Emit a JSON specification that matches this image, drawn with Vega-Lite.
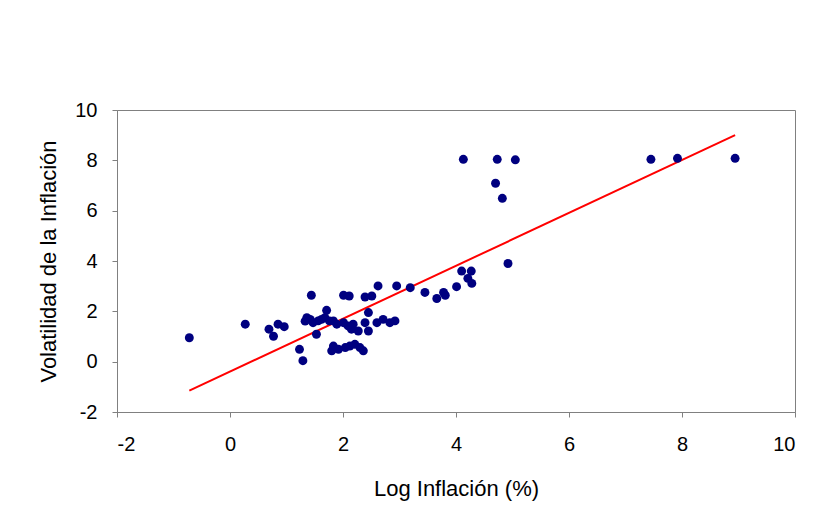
{
  "$schema": "https://vega.github.io/schema/vega-lite/v6.json",
  "width": 678,
  "height": 302,
  "autosize": {"type": "none"},
  "padding": {"left": 117, "top": 110, "right": 23, "bottom": 112},
  "background": "white",
  "config": {
    "view": {"stroke": "#808080", "strokeWidth": 1},
    "font": "Liberation Sans",
    "axis": {
      "grid": false,
      "domainColor": "#808080",
      "tickColor": "#808080",
      "tickSize": 5,
      "labelFont": "Liberation Sans",
      "labelFontSize": 20,
      "labelColor": "black",
      "titleFont": "Liberation Sans",
      "titleFontSize": 22,
      "titleFontWeight": "normal",
      "titleColor": "black"
    }
  },
  "datasets": {
    "pts": [
      {"x": -0.72, "y": 0.95}, {"x": 0.27, "y": 1.49}, {"x": 0.69, "y": 1.29}, {"x": 0.77, "y": 1.01},
      {"x": 0.85, "y": 1.49}, {"x": 0.96, "y": 1.39}, {"x": 1.23, "y": 0.49}, {"x": 1.29, "y": 0.04},
      {"x": 1.44, "y": 2.64}, {"x": 1.36, "y": 1.75}, {"x": 1.33, "y": 1.61}, {"x": 1.42, "y": 1.68},
      {"x": 1.47, "y": 1.55}, {"x": 1.56, "y": 1.62}, {"x": 1.62, "y": 1.68}, {"x": 1.68, "y": 1.75},
      {"x": 1.71, "y": 2.04}, {"x": 1.76, "y": 1.62}, {"x": 1.83, "y": 1.62}, {"x": 1.53, "y": 1.09},
      {"x": 1.89, "y": 1.49}, {"x": 2.01, "y": 1.55}, {"x": 2.09, "y": 1.42}, {"x": 2.15, "y": 1.29},
      {"x": 2.01, "y": 2.64}, {"x": 2.11, "y": 2.61}, {"x": 1.83, "y": 0.62}, {"x": 1.80, "y": 0.43},
      {"x": 1.92, "y": 0.49}, {"x": 2.04, "y": 0.56}, {"x": 2.12, "y": 0.62}, {"x": 2.21, "y": 0.69},
      {"x": 2.30, "y": 0.56}, {"x": 2.36, "y": 0.43}, {"x": 2.39, "y": 2.57}, {"x": 2.51, "y": 2.61},
      {"x": 2.62, "y": 3.01}, {"x": 2.45, "y": 1.95}, {"x": 2.18, "y": 1.49}, {"x": 2.39, "y": 1.55},
      {"x": 2.27, "y": 1.22}, {"x": 2.45, "y": 1.22}, {"x": 2.60, "y": 1.55}, {"x": 2.71, "y": 1.68},
      {"x": 2.83, "y": 1.55}, {"x": 2.92, "y": 1.62}, {"x": 2.95, "y": 3.01}, {"x": 3.19, "y": 2.94},
      {"x": 3.45, "y": 2.75}, {"x": 3.66, "y": 2.51}, {"x": 3.78, "y": 2.75}, {"x": 3.81, "y": 2.64},
      {"x": 4.01, "y": 2.98}, {"x": 4.10, "y": 3.60}, {"x": 4.27, "y": 3.60}, {"x": 4.21, "y": 3.31},
      {"x": 4.28, "y": 3.11}, {"x": 4.13, "y": 8.04}, {"x": 4.73, "y": 8.04}, {"x": 5.05, "y": 8.02},
      {"x": 4.70, "y": 7.09}, {"x": 4.82, "y": 6.49}, {"x": 4.92, "y": 3.90}, {"x": 7.45, "y": 8.04},
      {"x": 7.92, "y": 8.08}, {"x": 8.94, "y": 8.08}
    ],
    "fit": [
      {"x": -0.72, "y": -1.15},
      {"x": 8.94, "y": 9.0}
    ]
  },
  "layer": [
    {
      "data": {"name": "fit"},
      "mark": {"type": "line", "color": "#ff0000", "strokeWidth": 2},
      "encoding": {
        "x": {"field": "x", "type": "quantitative"},
        "y": {"field": "y", "type": "quantitative"}
      }
    },
    {
      "data": {"name": "pts"},
      "mark": {"type": "point", "filled": true, "shape": "circle", "size": 80, "color": "#000080", "opacity": 1},
      "encoding": {
        "x": {
          "field": "x", "type": "quantitative",
          "scale": {"domain": [-2, 10], "nice": false, "zero": false},
          "axis": {"values": [-2, 0, 2, 4, 6, 8, 10], "labelExpr": "datum.value + ''", "title": "Log Inflación (%)", "labelPadding": 17, "titlePadding": 24}
        },
        "y": {
          "field": "y", "type": "quantitative",
          "scale": {"domain": [-2, 10], "nice": false, "zero": false},
          "axis": {"values": [-2, 0, 2, 4, 6, 8, 10], "labelExpr": "datum.value + ''", "title": "Volatilidad de la Inflación", "labelPadding": 15, "titlePadding": 14}
        }
      }
    }
  ]
}
